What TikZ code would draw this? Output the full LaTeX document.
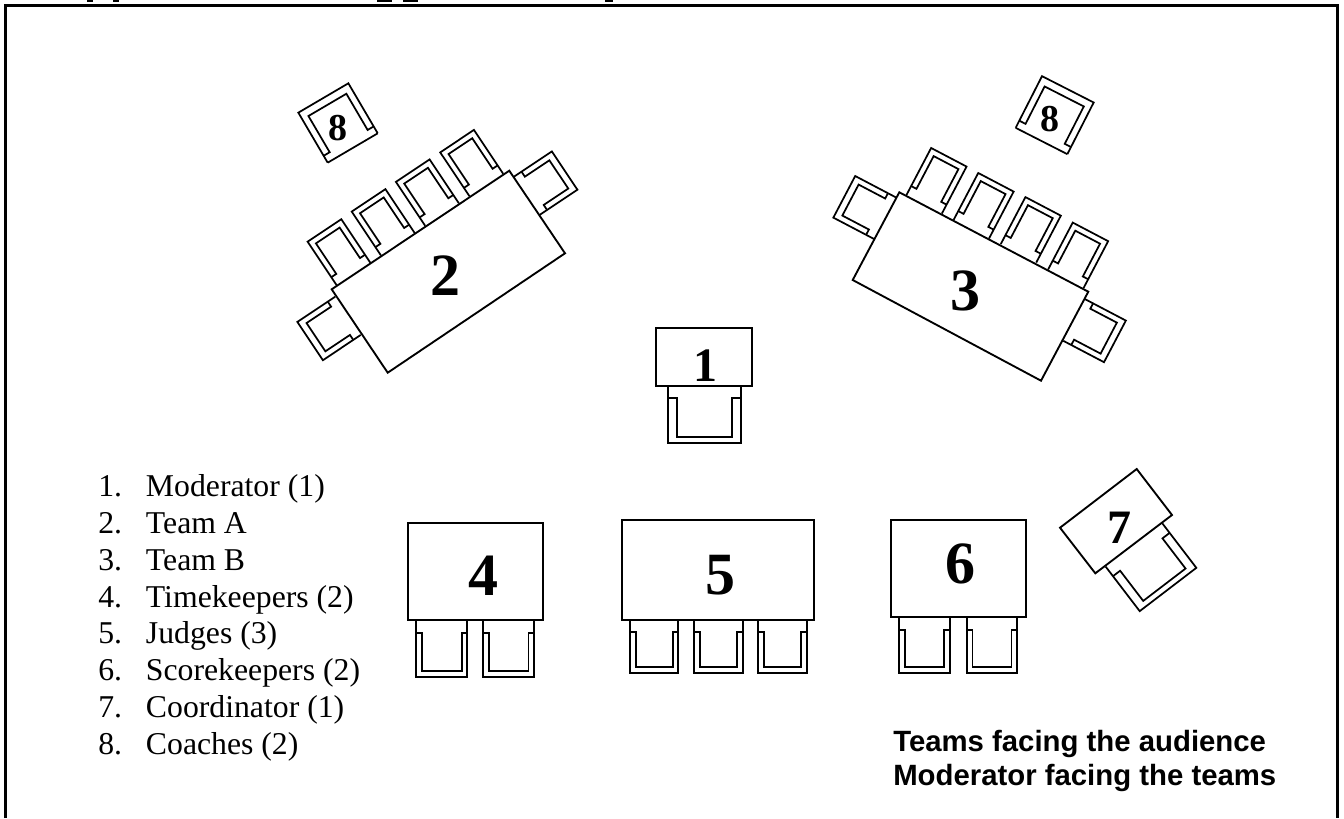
\documentclass[tikz,border=0pt]{standalone}
\usepackage{fontspec}
\setmainfont{Liberation Serif}
\newfontfamily\arialfont{Liberation Sans}
\newcommand{\chairU}[8]{%
  \begin{scope}[shift={(#1,#2)},rotate=#3]
    \draw[chairline] ({-(#4)/2},0)--({-(#4)/2},#5)--({(#4)/2},#5)--({(#4)/2},0);
    \draw[chairline] ({-(#4)/2},#8)--({-(#4)/2+#6},#8)--({-(#4)/2+#6},{#5-#7})--({(#4)/2-#6},{#5-#7})--({(#4)/2-#6},#8)--({(#4)/2},#8);
  \end{scope}}
\newcommand{\chairClosed}[8]{%
  \chairU{#1}{#2}{#3}{#4}{#5}{#6}{#7}{#8}%
  \begin{scope}[shift={(#1,#2)},rotate=#3]
    \draw[chairline] ({-(#4)/2},0)--({(#4)/2},0);
  \end{scope}}
\tikzset{
  chairline/.style={line width=1.3pt,line join=miter,black},
  tableline/.style={line width=1.4pt,line join=miter,black},
  framedraw/.style={line width=1.9pt,line join=miter,black},
  bignum/.style={font=\fontsize{45}{45}\selectfont\bfseries,anchor=base,inner sep=0pt},
  midnum/.style={font=\fontsize{36}{36}\selectfont\bfseries,anchor=base,inner sep=0pt},
  smallnum/.style={font=\fontsize{28.5}{28.5}\selectfont\bfseries,anchor=base,inner sep=0pt},
  listtext/.style={font=\fontsize{23.8}{23.8}\selectfont,anchor=base west,inner sep=0pt},
  notetext/.style={font=\arialfont\fontsize{22}{22}\selectfont\bfseries,anchor=base west,inner sep=0pt},
  titlemark/.style={fill=black,draw=none}
}
\begin{document}
\begin{tikzpicture}[x=0.75pt,y=-0.75pt]
\useasboundingbox (0,0) rectangle (1344,818);
% frame, open at the cropped bottom
\draw[framedraw] (5.5,818)--(5.5,5.5)--(1337.5,5.5)--(1337.5,818);
% cropped title descenders
\fill[titlemark] (87,0) rectangle (93,2);
\fill[titlemark] (113,0) rectangle (119,2);
\fill[titlemark] (377,0) rectangle (392,1.6);
\fill[titlemark] (403,0) rectangle (418,1.6);
\fill[titlemark] (605,0) rectangle (613,1.6);

% coach chairs
\chairClosed{352.7}{148}{210.4}{58}{58}{7}{8}{8}
\chairClosed{1041.5}{141}{153}{58}{58}{7}{8}{8}

% team A
\chairU{353.7}{274.3}{213.7}{40.5}{52.7}{6}{6}{10}
\chairU{397.8}{244.2}{213.7}{40.5}{52.7}{6}{6}{10}
\chairU{442}{214.5}{213.7}{40.5}{52.7}{6}{6}{10}
\chairU{486.3}{185}{213.7}{40.5}{52.7}{6}{6}{10}
\chairU{348}{315.8}{-56.3}{46}{45.5}{6}{7}{9}
\chairU{526.8}{195.8}{123.7}{46}{45.5}{6}{7}{9}
\draw[tableline] (331.7,289.3)--(509.3,170.7)--(565,253.3)--(387.7,372.7)--cycle;

% team B
\chairU{924.2}{204.2}{152.3}{40}{53}{6}{6}{10}
\chairU{971.3}{229.2}{152.3}{40}{53}{6}{6}{10}
\chairU{1018.5}{253.3}{152.3}{40}{53}{6}{6}{10}
\chairU{1065.8}{278.8}{152.3}{40}{53}{6}{6}{10}
\chairU{885}{218.2}{-117.7}{47}{46}{6}{7}{9}
\chairU{1074.2}{320}{62.3}{47}{46}{6}{7}{9}
\draw[tableline] (899.3,192.3)--(1088.3,291.7)--(1041,380.7)--(852.7,280)--cycle;

% moderator
\chairU{704.5}{386}{0}{73}{57}{9}{6}{12}
\draw[tableline] (656,328) rectangle (752,386);

% timekeepers
\chairU{441.7}{620}{0}{51.3}{56.7}{5.7}{6}{12.7}
\chairU{508.8}{620}{0}{51}{56.7}{5.7}{6}{12.7}
\draw[tableline] (407.7,523.3) rectangle (542.7,620);

% judges
\chairU{654.2}{620}{0}{48.3}{53.3}{5.7}{6}{11.7}
\chairU{718.3}{620}{0}{48.7}{53.3}{5.7}{6}{11.7}
\chairU{782.5}{620}{0}{48.4}{53.3}{5.7}{6}{11.7}
\draw[tableline] (622.3,520) rectangle (814.3,620);

% scorekeepers
\chairU{924.7}{617.3}{0}{50.7}{56}{5.7}{6.6}{12.7}
\chairU{992}{617.3}{0}{50.6}{56}{5.7}{6.6}{12.7}
\draw[tableline] (891,520) rectangle (1025.7,617.3);

% coordinator
\chairU{1134}{545}{37.4}{71.3}{56}{9}{6}{12}
\draw[tableline] (1136.7,469)--(1172,515)--(1095.3,573.3)--(1060,527.7)--cycle;

% numbers
\node[midnum] (n1) at (705.5,381.7) {1};
\node[bignum] (n2) at (445,295) {2};
\node[bignum] (n3) at (965.8,310.5) {3};
\node[bignum] (n4) at (483,595.7) {4};
\node[bignum] (n5) at (720,594) {5};
\node[bignum] (n6) at (960,583) {6};
\node[midnum] (n7) at (1119,543) {7};
\node[smallnum] (n8a) at (338,140) {8};
\node[smallnum] (n8b) at (1050,131.5) {8};

% list
\node[listtext] (l1n) at (98,496.7) {1.};
\node[listtext] (l1t) at (145.7,496.7) {Moderator (1)};
\node[listtext] (l2n) at (98,533.5) {2.};
\node[listtext] (l2t) at (145.7,533.5) {Team A};
\node[listtext] (l3n) at (98,570.3) {3.};
\node[listtext] (l3t) at (145.7,570.3) {Team B};
\node[listtext] (l4n) at (98,607) {4.};
\node[listtext] (l4t) at (145.7,607) {Timekeepers (2)};
\node[listtext] (l5n) at (98,643.8) {5.};
\node[listtext] (l5t) at (145.7,643.8) {Judges (3)};
\node[listtext] (l6n) at (98,680.6) {6.};
\node[listtext] (l6t) at (145.7,680.6) {Scorekeepers (2)};
\node[listtext] (l7n) at (98,717.3) {7.};
\node[listtext] (l7t) at (145.7,717.3) {Coordinator (1)};
\node[listtext] (l8n) at (98,754) {8.};
\node[listtext] (l8t) at (145.7,754) {Coaches (2)};

% note
\node[notetext] (note1) at (893,751.5) {Teams facing the audience};
\node[notetext] (note2) at (893,785) {Moderator facing the teams};
\end{tikzpicture}
\end{document}
